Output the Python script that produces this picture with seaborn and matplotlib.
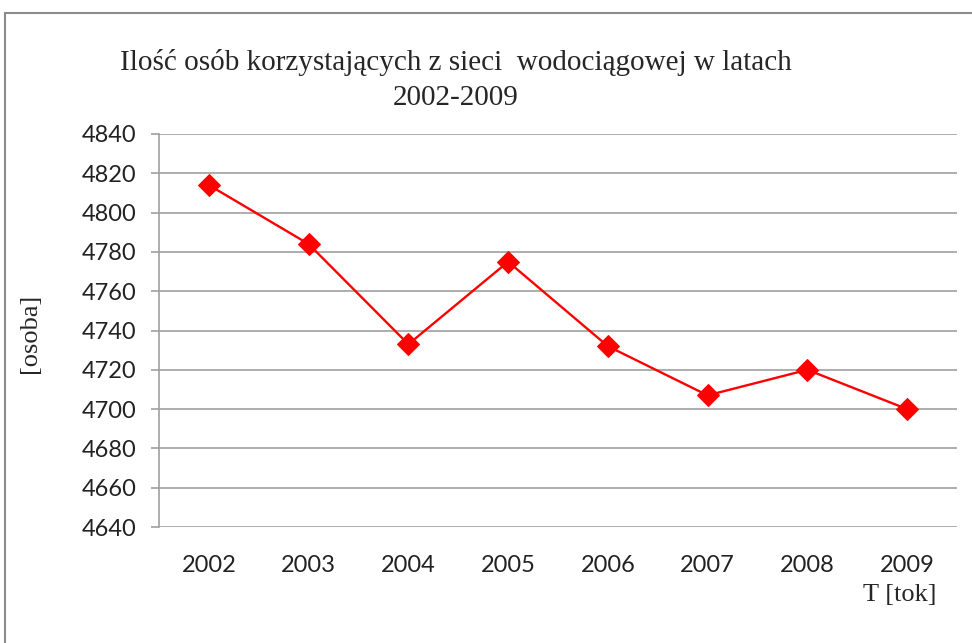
import pandas as pd
import numpy as np
import seaborn as sns
import matplotlib.pyplot as plt
from matplotlib.patches import Rectangle

years = ['2002', '2003', '2004', '2005', '2006', '2007', '2008', '2009']
people = [4814, 4784, 4733, 4775, 4732, 4707, 4720, 4700]
yticks = list(range(4640, 4841, 20))

df = pd.DataFrame({'rok': years, 'osoby': people})

sns.set_style('white')
plt.rcParams['font.family'] = ['Lato', 'DejaVu Sans']

fig = plt.figure(figsize=(9.72, 6.43), dpi=100)
ax = fig.add_axes([159 / 972, 1 - 527 / 643, (957 - 159) / 972, (527 - 134) / 643])

# outer chart border (cut off at right/bottom like the screenshot)
fig.patches.append(Rectangle((5 / 972, -0.1), 1.2, 1 - 13 / 643 + 0.1, transform=fig.transFigure,
                             fill=False, edgecolor='#8c8c8c', linewidth=1.5))

sns.lineplot(data=df, x='rok', y='osoby', color='#ff0000', linewidth=1.7,
             marker='D', markersize=11, markeredgecolor='#ff0000', ax=ax)

ax.set_xlim(-0.5, 7.5)
ax.set_ylim(4640, 4840)
ax.set_yticks(yticks)
ax.yaxis.grid(True, color='#a0a0a0', linewidth=1.2)
ax.xaxis.grid(False)
for s in ['top', 'right', 'bottom']:
    ax.spines[s].set_visible(False)
ax.spines['left'].set_color('#a0a0a0')
ax.spines['left'].set_linewidth(1.2)
ax.tick_params(axis='y', length=6, color='#a0a0a0', width=1.2, labelsize=17, pad=10,
               left=True, labelcolor='#222222')
ax.tick_params(axis='x', length=0, labelsize=17, pad=20, labelcolor='#222222')
ax.set_xlabel('')
ax.set_ylabel('')

fig.text(456 / 972, 1 - 62 / 643, 'Ilość osób korzystających z sieci  wodociągowej w latach',
         family='Liberation Serif', fontsize=21, ha='center', va='center')
fig.text(456 / 972, 1 - 98 / 643, '2002-2009', family='Liberation Serif', fontsize=21,
         ha='center', va='center')
fig.text(30 / 972, 1 - 333 / 643, '[osoba]', family='Liberation Serif', fontsize=19,
         ha='center', va='center', rotation=90)
fig.text(936 / 972, 1 - 595 / 643, 'T [tok]', family='Liberation Serif', fontsize=19,
         ha='right', va='center')

fig.savefig('out.png', dpi=100)
